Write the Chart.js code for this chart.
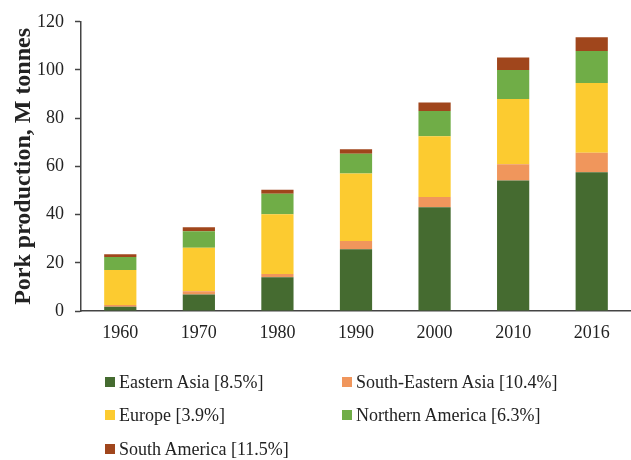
<!DOCTYPE html>
<html>
<head>
<meta charset="utf-8">
<script src="https://cdn.jsdelivr.net/npm/chart.js@4/dist/chart.umd.min.js"></script>
<style>
body{margin:0;background:#fff;}
#wrap{position:relative;width:631px;height:460px;}
#leyenda{position:absolute;left:0;top:0;font-family:"Liberation Serif",serif;font-size:18px;color:#222;}
.item{position:absolute;height:20px;display:flex;align-items:center;white-space:nowrap;}
.cuadro{width:10px;height:10px;margin-right:4px;}
</style>
</head>
<body>
<div id="wrap">
<canvas id="myChart" width="631" height="460"></canvas>
<div id="leyenda"></div>
</div>
<script>
//años del eje x
const anios = ['1960', '1970', '1980', '1990', '2000', '2010', '2016'];
//valores por region (M tonnes)
const easternAsia = [1.8, 6.8, 14.0, 25.6, 43.0, 54.2, 57.6];
const southEasternAsia = [0.7, 1.4, 1.4, 3.4, 4.3, 6.7, 8.1];
const europe = [14.5, 18.0, 24.7, 28.1, 25.2, 27.1, 28.9];
const northernAmerica = [5.4, 6.9, 8.6, 8.2, 10.5, 12.0, 13.3];
const southAmerica = [1.1, 1.6, 1.6, 1.8, 3.5, 5.2, 5.7];
//ticks del eje y
const ticksY = [0, 20, 40, 60, 80, 100, 120];
const etiquetas = ['Eastern Asia [8.5%]', 'South-Eastern Asia [10.4%]', 'Europe [3.9%]', 'Northern America [6.3%]', 'South America [11.5%]'];
const colores = ['#456b30', '#f0965c', '#fccb30', '#70ad47', '#a0461c'];

const series = [easternAsia, southEasternAsia, europe, northernAmerica, southAmerica];

Chart.defaults.font.family = '"Liberation Serif", serif';
Chart.defaults.color = '#222';

const ctx = document.getElementById('myChart');
const myChart = new Chart(ctx, {
    type: 'bar',
    data: {
        labels: anios,
        datasets: series.map((data, i) => ({
            label: etiquetas[i],
            data: data,
            backgroundColor: colores[i],
            borderWidth: 0,
            barPercentage: 0.41,
            categoryPercentage: 1
        }))
    },
    options: {
        responsive: false,
        animation: false,
        layout: { padding: { top: 17, right: 0, bottom: 0, left: 0 } },
        plugins: { legend: { display: false }, tooltip: { enabled: false } },
        scales: {
            x: {
                stacked: true,
                grid: { display: false, drawTicks: false },
                border: { display: true, color: '#444', width: 1.5 },
                ticks: { font: { size: 18 }, padding: 11 },
                afterFit: (scale) => { scale.height = 149 }
            },
            y: {
                stacked: true,
                min: 0,
                max: 120,
                afterBuildTicks: (scale) => { scale.ticks = ticksY.map(v => ({ value: v })) },
                grid: { drawOnChartArea: false, drawTicks: true, tickLength: 6, tickColor: '#444', tickWidth: 1.5 },
                border: { display: true, color: '#444', width: 1.5 },
                ticks: { font: { size: 18 }, padding: 11 },
                title: {
                    display: true,
                    text: 'Pork production, M tonnes',
                    font: { size: 24, weight: 'bold' },
                    padding: { top: 9, bottom: 0 }
                },
                afterFit: (scale) => { scale.width = 81 }
            }
        }
    }
});

//leyenda en dos columnas
const posiciones = [[105, 372], [342, 372], [105, 405], [342, 405], [105, 439]];
const leyenda = document.getElementById('leyenda');
etiquetas.forEach((texto, i) => {
    leyenda.innerHTML += `<div class="item" style="left:${posiciones[i][0]}px;top:${posiciones[i][1]}px">
        <span class="cuadro" style="background:${colores[i]}"></span>${texto}</div>`;
});
</script>
</body>
</html>
